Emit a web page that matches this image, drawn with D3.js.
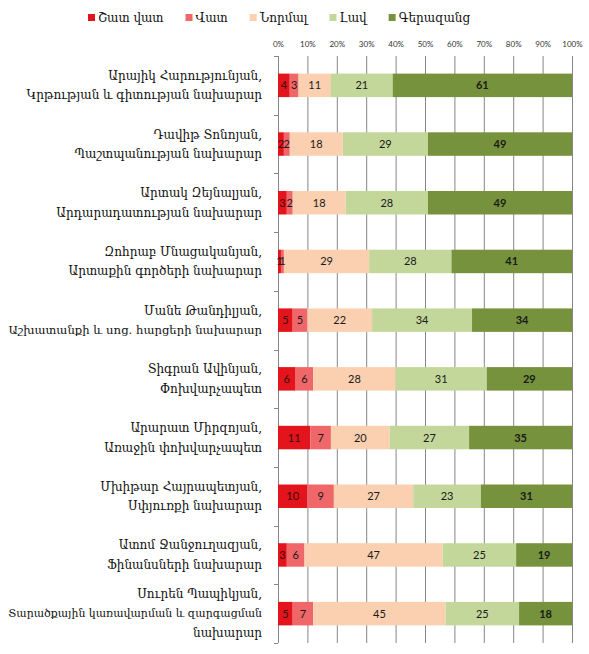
<!DOCTYPE html>
<html>
<head>
<meta charset="utf-8">
<script src="https://cdn.jsdelivr.net/npm/d3@7"></script>
<style>
  body { margin: 0; background: #fff; }
  svg { display: block; }
</style>
</head>
<body>
<div id="chart"></div>
<script>
// answer categories (legend order)
const seriesNames = ["Շատ վատ", "Վատ", "Նորմալ", "Լավ", "Գերազանց"]
const seriesColors = ["#e3141b", "#f0676a", "#fad0b0", "#c4d79b", "#76923c"]

// ministers, each label split in lines
const ministers = [
  ["Արայիկ Հարությունյան,", "Կրթության և գիտության նախարար"],
  ["Դավիթ Տոնոյան,", "Պաշտպանության նախարար"],
  ["Արտակ Զեյնալյան,", "Արդարադատության նախարար"],
  ["Զոհրաբ Մնացականյան,", "Արտաքին գործերի նախարար"],
  ["Մանե Թանդիլյան,", "Աշխատանքի և սոց. հարցերի նախարար"],
  ["Տիգրան Ավինյան,", "Փոխվարչապետ"],
  ["Արարատ Միրզոյան,", "Առաջին փոխվարչապետ"],
  ["Մխիթար Հայրապետյան,", "Սփյուռքի նախարար"],
  ["Ատոմ Ջանջուղազյան,", "Ֆինանսների նախարար"],
  ["Սուրեն Պապիկյան,", "Տարածքային կառավարման և զարգացման", "նախարար"]
]

// percentages per answer
const veryBad   = [4, 2, 3, 1, 5, 6, 11, 10, 3, 5]
const bad       = [3, 2, 2, 1, 5, 6, 7, 9, 6, 7]
const normal    = [11, 18, 18, 29, 22, 28, 20, 27, 47, 45]
const good      = [21, 29, 28, 28, 34, 31, 27, 23, 25, 25]
const excellent = [61, 49, 49, 41, 34, 29, 35, 31, 19, 18]

const tickValues = [0, 10, 20, 30, 40, 50, 60, 70, 80, 90, 100]

const width = 589
const height = 654
const labelFont = "'DejaVu Serif', serif"
const numFont = "Lato, 'Open Sans', sans-serif"

const table = ministers.map((m, i) => ({
  idx: i,
  [seriesNames[0]]: veryBad[i],
  [seriesNames[1]]: bad[i],
  [seriesNames[2]]: normal[i],
  [seriesNames[3]]: good[i],
  [seriesNames[4]]: excellent[i],
}))

const stacked = d3.stack().keys(seriesNames)(table)

const plotTop = 56
const plotBottom = 643

const x = d3.scaleLinear().domain([0, 100]).range([278, 572])
const y = d3
  .scaleBand()
  .domain(d3.range(ministers.length))
  .range([plotTop, plotBottom])
  .paddingInner(0.6)
  .paddingOuter(0.3)

const color = d3.scaleOrdinal().domain(seriesNames).range(seriesColors)

const svg = d3
  .select("#chart")
  .append("svg")
  .attr("width", width)
  .attr("height", height)

// gridlines
svg
  .append("g")
  .selectAll("line")
  .data(tickValues)
  .join("line")
  .attr("x1", (d) => x(d) + 0.5)
  .attr("x2", (d) => x(d) + 0.5)
  .attr("y1", plotTop)
  .attr("y2", plotBottom)
  .attr("stroke", "#868686")
  .attr("stroke-width", 1)

// top axis labels
const axis = svg
  .append("g")
  .attr("transform", `translate(0,${plotTop - 6})`)
  .call(
    d3
      .axisTop(x)
      .tickValues(tickValues)
      .tickSize(0)
      .tickFormat((d) => d + "%"),
  )
axis.select(".domain").remove()
axis
  .selectAll("text")
  .attr("font-family", numFont)
  .attr("font-size", "8px")
  .attr("fill", "#333")

// category boundary ticks on the 0% axis
const step = y.step()
const bounds = d3.range(ministers.length + 1).map((i) => plotTop + step * i)
svg
  .append("g")
  .selectAll("line")
  .data(bounds)
  .join("line")
  .attr("x1", x(0) - 4)
  .attr("x2", x(0))
  .attr("y1", (d) => Math.round(d) + 0.5)
  .attr("y2", (d) => Math.round(d) + 0.5)
  .attr("stroke", "#868686")

// bars
const layer = svg
  .append("g")
  .selectAll("g")
  .data(stacked)
  .join("g")
  .attr("fill", (d) => color(d.key))

layer
  .selectAll("rect")
  .data((d) => d)
  .join("rect")
  .attr("x", (d) => x(d[0]))
  .attr("y", (d) => y(d.data.idx))
  .attr("width", (d) => x(d[1]) - x(d[0]))
  .attr("height", y.bandwidth())

// values in the bars
const valueLayer = svg
  .append("g")
  .selectAll("g")
  .data(stacked)
  .join("g")

valueLayer
  .selectAll("text")
  .data((d) => d.map((v) => ({ v, key: d.key })))
  .join("text")
  .attr("x", (d) => x((d.v[0] + d.v[1]) / 2))
  .attr("y", (d) => y(d.v.data.idx) + y.bandwidth() / 2)
  .attr("dy", "0.36em")
  .attr("text-anchor", "middle")
  .attr("font-family", numFont)
  .attr("font-size", "11px")
  .attr("font-weight", (d) => (d.key === seriesNames[4] ? "bold" : "normal"))
  .attr("fill", (d) => (d.key === seriesNames[0] ? "#3a0a0a" : "#1a1a1a"))
  .text((d) => d.v[1] - d.v[0])

// minister labels
const lineGap = 19.5
const labelRight = 262
const labelMaxW = 254
const labelSize = 12
svg
  .append("g")
  .selectAll("text")
  .data(ministers)
  .join("text")
  .attr("text-anchor", "end")
  .attr("font-family", labelFont)
  .attr("font-size", labelSize + "px")
  .attr("fill", "#111")
  .each(function (lines, i) {
    const cy = y(i) + y.bandwidth() / 2
    const first = cy - ((lines.length - 1) * lineGap) / 2
    d3.select(this)
      .selectAll("tspan")
      .data(lines)
      .join("tspan")
      .attr("x", labelRight)
      .attr("y", (d, j) => first + j * lineGap)
      .attr("dy", "0.35em")
      .text((d) => d)
      .each(function () {
        // long lines get a smaller font so they stay inside the page
        const w = this.getComputedTextLength()
        if (w > labelMaxW) {
          d3.select(this).attr("font-size", (labelSize * labelMaxW) / w + "px")
        }
      })
  })

// legend, laid out from the measured text widths
const legend = svg.append("g").attr("transform", "translate(0,18)")
const items = legend
  .selectAll("g")
  .data(seriesNames)
  .join("g")

items
  .append("rect")
  .attr("y", -4)
  .attr("width", 7)
  .attr("height", 7)
  .attr("fill", (d) => color(d))

items
  .append("text")
  .attr("x", 10)
  .attr("dy", "0.35em")
  .attr("font-family", labelFont)
  .attr("font-size", "12px")
  .attr("fill", "#111")
  .text((d) => d)

let lx = 88
items.each(function () {
  d3.select(this).attr("transform", `translate(${lx},0)`)
  const w = this.querySelector("text").getComputedTextLength()
  lx += 10 + w + 22
})
</script>
</body>
</html>
